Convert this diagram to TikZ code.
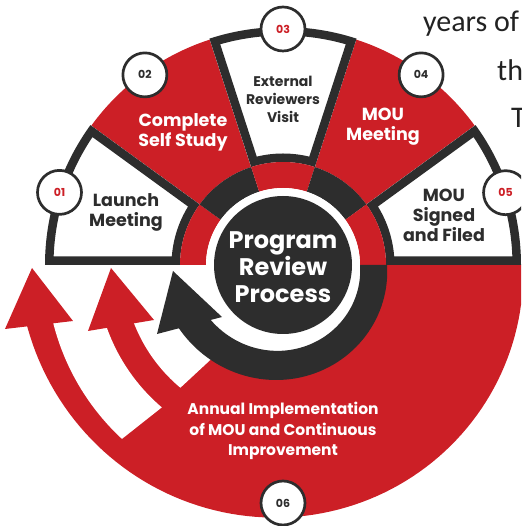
\documentclass[tikz,border=0pt]{standalone}
\usepackage{fontspec}
\setmainfont{Poppins}
\newfontfamily\bodyfont{Carlito}
\definecolor{brandred}{RGB}{204,31,38}
\definecolor{ink}{RGB}{45,45,45}
\definecolor{textgray}{RGB}{34,34,34}
\begin{document}
\begin{tikzpicture}[x=1pt,y=1pt,
  sec/.style 2 args={insert path={(#1:103) arc[start angle=#1,end angle=#2,radius=103]
      -- (#2:238) arc[start angle=#2,end angle=#1,radius=238] -- cycle}},
  badge/.style={circle, draw=ink, line width=2.7pt, fill=white, minimum size=44pt,
      inner sep=0pt, font=\bfseries\fontsize{11}{11}\selectfont},
  steplabel/.style={align=center, inner sep=0pt, font=\bfseries\fontsize{17.5}{20}\selectfont},
  smalllabel/.style={align=center, inner sep=0pt, font=\bfseries\fontsize{14}{18}\selectfont},
  bodytext/.style={anchor=base west, inner sep=0pt, text=textgray,
      font=\bodyfont\fontsize{30}{30}\selectfont}]
\useasboundingbox (-283,-261) rectangle (238,265);
\clip (-283,-261) rectangle (238,265);

% lower half: red body that widens into the outer arrow
\fill[brandred] plot[domain=0:168,samples=90] ({-\x}:{240+23*\x/166})
  -- (192:100) arc[start angle=192,end angle=360,radius=100] -- cycle;

% white gaps that separate the three returning arrows
\fill[white] (180:187) -- (180:237) arc[start angle=180,end angle=227.2,radius=237]
  -- (229.6:187) arc[start angle=229.6,end angle=180,radius=187] -- cycle;
\fill[white] (180:100) -- (180:160) arc[start angle=180,end angle=230.1,radius=160]
  -- (234.5:100) arc[start angle=234.5,end angle=180,radius=100] -- cycle;

% upper half: five step sectors
\foreach \a/\b in {108/144, 36/72}
  \fill[brandred] (\a:103) arc[start angle=\a,end angle=\b,radius=103]
    -- (\b:237) arc[start angle=\b,end angle=\a,radius=237] -- cycle;
\foreach \a/\b in {144/180, 72/108, 0/36}{
  \begin{scope}
    \path[clip, sec={\a}{\b}];
    \fill[white, sec={\a}{\b}];
    \draw[ink, line width=17pt, line join=miter, sec={\a}{\b}];
  \end{scope}
}

% inner ring
\foreach \a/\b/\c in {144/180/brandred, 108/144/ink, 72/108/brandred, 36/72/ink, 0/36/brandred}
  \fill[\c] (\a:77) arc[start angle=\a,end angle=\b,radius=77]
    -- (\b:103) arc[start angle=\b,end angle=\a,radius=103] -- cycle;

% dark arrow circling the centre
\fill[ink] plot[domain=0:150,samples=60] ({-\x}:{104+18*\x/150})
  -- plot[domain=145:0,samples=60] ({-\x}:{77+14*\x/145}) -- cycle;
\fill[ink] (-126,-69) -- (-110,-6) -- (-61,-52) -- cycle;

% red arrow heads
\fill[brandred] (-278,-64) -- (-251,-3) -- (-210,-56) -- cycle;
\fill[brandred] (-195,-66) -- (-172,-3) -- (-129,-55) -- cycle;

% centre
\fill[white] (0,0) circle[radius=77];
\node[circle, fill=ink, minimum size=138pt, inner sep=0pt] (core) at (0,0) {};
\node[align=center, text=white, inner sep=0pt,
      font=\bfseries\fontsize{24}{27}\selectfont] (title) at (0,-2) {Program\\Review\\Process};

% numbered badges
\node[badge, text=brandred] (b01) at (162:235) {01};
\node[badge, text=ink] (b02) at (126:235) {02};
\node[badge, text=brandred] (b03) at (90:236) {03};
\node[badge, text=ink] (b04) at (54:235) {04};
\node[badge, text=brandred] (b05) at (18:234) {05};
\node[badge, text=ink] (b06) at (270:238) {06};

% step labels
\node[steplabel, text=ink] (launch) at (-157,53) {Launch\\Meeting};
\node[steplabel, text=white] (selfstudy) at (-100,133) {Complete\\Self Study};
\node[smalllabel, text=ink] (external) at (0,166) {External\\Reviewers\\Visit};
\node[steplabel, text=white] (mou) at (100,138) {MOU\\Meeting};
\node[steplabel, text=ink] (signed) at (161,50) {MOU\\Signed\\and Filed};
\node[align=center, inner sep=0pt, text=white,
      font=\bfseries\fontsize{15.5}{20.7}\selectfont] (annual) at (0,-166)
      {Annual Implementation\\of MOU and Continuous\\Improvement};

% running text beside the wheel
\node[bodytext] (line1) at (140,233) {years of};
\node[bodytext] (line2) at (214,184) {th};
\node[bodytext] (line3) at (228,137) {T};
\end{tikzpicture}
\end{document}
